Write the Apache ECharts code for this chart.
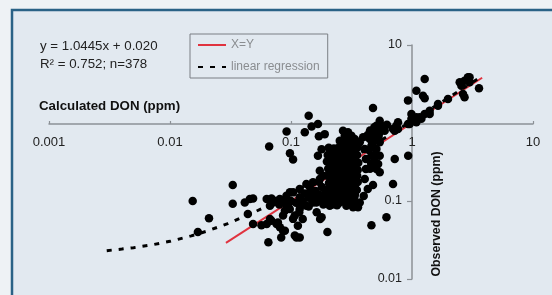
<!DOCTYPE html>
<html><head><meta charset="utf-8">
<script src="https://cdn.jsdelivr.net/npm/echarts@6.0.0/dist/echarts.min.js"></script>
<style>html,body{margin:0;padding:0;background:#eef2f5;}#c{width:552px;height:295px;}</style>
</head><body><div id="c"></div>
<script>
// Calculated DON (x) and Observed DON (y), ppm
const calcDON = [
0.0154,0.021,0.017,0.033,0.033,0.0415,0.0457,0.0486,0.044,0.0486,0.057,0.063,0.069,0.076,0.086,0.083,0.111,0.118,0.065,0.114,
0.104,0.098,0.118,0.134,0.152,0.162,0.063,0.071,0.086,0.069,0.067,0.092,0.089,0.067,0.078,0.081,0.092,0.066,0.098,0.104,
0.140,0.130,0.148,0.167,0.190,0.167,0.179,0.173,0.170,0.184,0.0808,0.0918,0.104,0.118,0.152,0.173,0.0977,0.118,0.134,0.152,
0.173,0.086,0.1075,0.1075,0.089,0.179,0.209,0.230,0.253,0.287,0.326,0.358,0.370,0.287,0.336,0.306,0.200,0.462,0.615,0.476,
0.697,0.72,0.476,
0.541,0.508,0.541,0.489,0.541,0.508,0.541,0.525,0.508,0.541,0.448,0.462,0.462,
0.269,0.296,0.316,0.336,0.370,0.394,0.278,
0.766,0.743,0.697,0.595,0.508,0.489,0.766,0.72,0.541,0.489,0.462,0.927,
0.989,0.989,0.957,1.087,1.196,1.40,1.64,0.927,1.087,1.16,1.273,1.40,1.64,1.983,
1.273,1.087,1.233,1.273,
2.48,2.72,2.90,2.56,3.58,2.64,2.72,2.99,2.99,
0.93,0.170,0.125,0.117,0.163,0.174,0.187,0.212,
0.407,0.416,0.416,0.407,0.431,0.399,
0.143,0.160,0.180,0.194,
0.253,0.284,0.318,0.356,
0.205,0.226,0.250,0.284,0.318,0.356,
0.201,0.229,0.253,0.280,0.320,0.352,
0.198,0.226,0.256,0.284,0.315,0.360,
0.203,0.222,0.253,0.288,0.318,0.356,
0.200,0.226,0.250,0.284,0.322,0.352,
0.206,0.228,0.253,0.280,0.318,0.356,
0.201,0.226,0.255,0.284,0.318,0.350,
0.215,0.240,0.270,0.300,0.330,
0.268,0.300,0.337,0.213,0.240,0.268,0.300,0.337,0.213,0.240,0.268,0.300,0.337,
0.213,0.240,0.268,0.300,0.337,0.213,0.240,0.268,0.300,0.337,0.213,0.240,0.268,0.300,0.337,
0.213,0.240,0.268,0.300,0.337,0.240,0.268,0.300,0.337,
0.10,0.11,0.125,0.14,0.155,0.17,0.19,0.13,0.145,0.16,0.185,0.20,0.22,0.24,0.26,0.30,0.34,0.075,0.08,0.095,0.12,0.14,
0.45,0.43,0.47,0.44,0.50,0.46,0.49,0.45,0.53,0.58,0.62
];
const obsDON = [
0.100,0.060,0.040,0.16,0.092,0.096,0.106,0.108,0.068,0.0507,0.049,0.0507,0.056,0.0507,0.0416,0.034,0.034,0.034,0.0296,0.048,
0.059,0.129,0.1115,0.165,0.129,0.096,0.106,0.096,0.101,0.108,0.087,0.087,0.075,0.0588,0.053,0.046,0.78,0.50,0.41,0.34,
1.24,0.76,0.90,0.97,0.72,0.38,0.46,0.245,0.177,0.211,0.106,0.117,0.129,0.143,0.174,0.191,0.079,0.079,0.087,0.096,
0.106,0.065,0.065,0.036,0.0416,0.062,0.087,0.101,0.096,0.087,0.083,0.083,0.096,0.129,0.117,0.165,0.040,0.049,0.062,0.160,
0.165,0.346,1.56,
1.07,0.881,0.760,0.624,0.566,0.464,0.381,0.298,0.257,0.233,0.624,0.512,0.381,
0.797,0.760,0.688,0.624,0.566,0.656,0.688,
1.02,0.923,0.838,0.797,0.923,0.76,0.838,0.797,0.971,0.881,0.723,0.971,
1.30,1.13,0.971,1.02,1.13,1.30,1.667,1.95,1.183,1.183,1.30,1.438,1.75,2.03,
3.67,2.6,2.24,2.07,
3.33,3.49,3.85,3.01,2.79,2.35,2.14,3.33,3.85,
0.38,0.675,0.0588,0.0716,0.0716,0.0588,0.106,0.117,
0.464,0.346,0.257,0.191,0.143,0.116,
0.151,0.134,0.151,0.127,
0.59,0.58,0.60,0.57,
0.48,0.47,0.49,0.47,0.48,0.49,
0.39,0.38,0.40,0.39,0.38,0.39,
0.32,0.31,0.32,0.31,0.32,0.31,
0.26,0.25,0.26,0.25,0.26,0.25,
0.21,0.205,0.21,0.215,0.205,0.21,
0.17,0.165,0.172,0.168,0.17,0.175,
0.14,0.136,0.14,0.135,0.14,0.138,
0.112,0.115,0.11,0.113,0.108,
0.53,0.54,0.52,0.43,0.43,0.44,0.42,0.43,0.35,0.35,0.36,0.35,0.34,
0.285,0.29,0.28,0.285,0.29,0.232,0.235,0.23,0.232,0.228,0.189,0.19,0.187,0.19,0.188,
0.153,0.155,0.152,0.153,0.15,0.125,0.124,0.126,0.123,
0.10,0.095,0.10,0.11,0.105,0.12,0.125,0.125,0.13,0.115,0.09,0.095,0.09,0.088,0.10,0.095,0.09,0.10,0.09,0.092,0.088,0.085,
0.80,0.70,0.55,0.45,0.40,0.30,0.34,0.26,0.68,0.90,0.95
];
// linear regression y = 1.0445x + 0.020 (values along the fitted line)
const regX = [0.003,0.004,0.005,0.007,0.01,0.015,0.02,0.03,0.05,0.07,0.1,0.2,0.3,0.5,1,2,3.8];
const regY = [0.0231,0.0242,0.0252,0.0273,0.0304,0.0357,0.0409,0.0513,0.0722,0.0931,0.124,0.229,0.333,0.542,1.065,2.109,3.989];
// X=Y reference line
const idX = [0.029,3.8];
const idY = [0.029,3.8];
const xTickLabels = ['0.001','0.01','0.1','1','10'];
const yTickLabels = ['0.01','0.1','','10'];
const equationLines = ['y = 1.0445x + 0.020','R\u00b2 = 0.752; n=378'];

const FONT = 'Liberation Sans, Arial, sans-serif';
const chart = echarts.init(document.getElementById('c'));
const pairs = (a,b) => a.map((v,i)=>[v,b[i]]);

chart.setOption({
  animation:false,
  textStyle:{fontFamily:FONT},
  grid:{left:49,right:19,top:45,bottom:16},
  xAxis:{type:'log',logBase:10,min:0.001,max:10,position:'top',offset:-79,
    axisLine:{show:true,lineStyle:{color:'#8c9196',width:1.5}},
    axisTick:{show:true,length:3,lineStyle:{color:'#8c9196',width:1.2}},
    minorTick:{show:false},splitLine:{show:false},
    axisLabel:{inside:true,margin:12,color:'#222',fontSize:13,fontFamily:FONT,
      formatter:(v,i)=>xTickLabels[i]}},
  yAxis:{type:'log',logBase:10,min:0.01,max:10,position:'left',offset:-363,
    axisLine:{show:true,lineStyle:{color:'#8c9196',width:1.5}},
    axisTick:{show:true,length:5,lineStyle:{color:'#8c9196',width:1.2}},
    splitLine:{show:false},
    axisLabel:{margin:10,color:'#222',fontSize:12.5,fontFamily:FONT,
      formatter:(v,i)=>yTickLabels[i]}},
  legend:{left:190,top:34,orient:'vertical',data:['X=Y','linear regression'],
    borderColor:'#7a7f84',borderWidth:1,padding:[5,8,5,7],itemWidth:28,itemHeight:12,itemGap:10,
    itemStyle:{opacity:0},
    textStyle:{color:'#8a8d90',fontSize:12,fontFamily:FONT}},
  graphic:[
    {type:'rect',z:-10,shape:{x:12,y:10,width:560,height:310},
      style:{fill:'#e2e9f0',stroke:'#2a6286',lineWidth:2.5}},
    {type:'text',x:40,y:46.7,style:{text:equationLines[0],font:'13.3px '+FONT,fill:'#222',verticalAlign:'middle'}},
    {type:'text',x:40,y:64,style:{text:equationLines[1],font:'13.3px '+FONT,fill:'#222',verticalAlign:'middle'}},
    {type:'text',x:39,y:106.7,style:{text:'Calculated DON (ppm)',font:'bold 13.3px '+FONT,fill:'#111',verticalAlign:'middle'}},
    {type:'text',x:437,y:214,rotation:Math.PI/2,style:{text:'Observed DON (ppm)',font:'bold 12.3px '+FONT,fill:'#111',align:'center',verticalAlign:'middle'}}
  ],
  series:[
    {name:'X=Y',type:'line',data:pairs(idX,idY),symbol:'none',z:1,
      lineStyle:{color:'#e0333f',width:2},itemStyle:{color:'#e0333f'}},
    {name:'linear regression',type:'line',data:pairs(regX,regY),symbol:'none',z:1,
      lineStyle:{color:'#000',width:3,type:[5,7]},itemStyle:{color:'#000'}},
    {name:'Observed',type:'scatter',data:pairs(calcDON,obsDON),symbolSize:8.5,z:3,
      itemStyle:{color:'#000',opacity:1}}
  ]
});
</script></body></html>
